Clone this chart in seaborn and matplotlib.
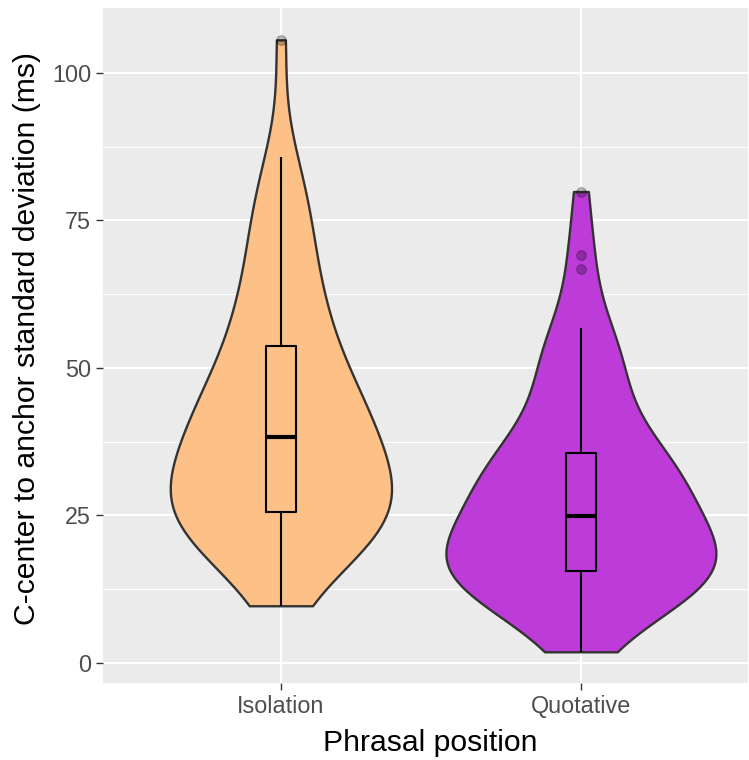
import numpy as np
import pandas as pd
import matplotlib
matplotlib.use("Agg")
import matplotlib.pyplot as plt
import seaborn as sns

# C-center to anchor standard deviations (ms), one value per speaker/item
positions = ["Isolation", "Quotative"]
isolation_sd = [
    9.7, 14.6, 17.2, 18.8, 19.8, 20.6, 21.3, 22.0, 22.6, 23.2, 23.7, 24.2, 24.7, 25.0, 25.3,
    25.6, 26.2, 26.8, 27.4, 28.0, 28.7, 29.4, 30.2, 31.0, 31.9, 32.9, 34.0, 35.2, 36.5, 38.0,
    38.5, 39.1, 39.7, 40.3, 41.0, 41.7, 42.4, 43.2, 44.1, 45.1, 46.3, 47.7, 49.4, 51.3, 53.5,
    54.3, 55.6, 57.1, 58.9, 61.0, 63.3, 65.8, 68.3, 70.9, 73.5, 76.2, 79.0, 82.0, 85.8,
    105.6,
]
quotative_sd = [
    1.9, 5.6, 7.7, 9.2, 10.4, 11.3, 12.0, 12.7, 13.3, 13.8, 14.2, 14.6, 14.9, 15.2, 15.4,
    15.7, 16.0, 16.4, 16.8, 17.2, 17.7, 18.2, 18.8, 19.4, 20.1, 20.9, 21.8, 22.7, 23.7, 24.7,
    25.1, 26.1, 27.0, 27.9, 28.7, 29.5, 30.2, 30.9, 31.6, 32.3, 33.0, 33.6, 34.2, 34.8, 35.4,
    36.4, 38.3, 40.3, 42.4, 44.5, 46.6, 48.6, 50.5, 52.3, 54.0, 55.4, 56.7,
    66.7, 69.2, 79.9,
]
fill_colors = ["#FDC086", "#BD3BD9"]
y_ticks = [0, 25, 50, 75, 100]
y_minor = [12.5, 37.5, 62.5, 87.5]

df = pd.DataFrame({
    "position": ["Isolation"] * len(isolation_sd) + ["Quotative"] * len(quotative_sd),
    "sd": isolation_sd + quotative_sd,
})

plt.rcParams["font.family"] = ["Liberation Sans", "DejaVu Sans"]

fig = plt.figure(figsize=(7.49, 7.60), dpi=100)
ax = fig.add_axes([103 / 749, 1 - 683 / 760, (748 - 103) / 749, (683 - 8.3) / 760])
ax.set_facecolor("#EBEBEB")

# trimmed violins, equal area, scaled by the largest density of both groups
sns.violinplot(
    data=df, x="position", y="sd", hue="position",
    order=positions, hue_order=positions, palette=fill_colors, saturation=1,
    cut=0, density_norm="area", common_norm=True, width=0.9, inner=None,
    linewidth=1.7, linecolor="#333333", bw_method=0.43, legend=False, ax=ax,
)

sns.boxplot(
    data=df, x="position", y="sd", order=positions,
    width=0.1, whis=1.5, fill=False, color="black", linewidth=1.5,
    fliersize=7, showcaps=False, medianprops={"linewidth": 3.0}, ax=ax,
)

# semi-transparent outlier points
for line in ax.lines:
    if line.get_marker() not in (None, "None", "", " ") and line.get_linestyle() in ("None", "", " "):
        line.set_marker("o")
        line.set_markerfacecolor("black")
        line.set_markeredgecolor("black")
        line.set_markeredgewidth(0.8)
        line.set_markersize(7)
        line.set_alpha(0.25)
        line.set_zorder(5)

for s in ax.spines.values():
    s.set_visible(False)

ax.set_xlim(-0.593, 1.557)
ax.set_ylim(-3.39, 110.95)
ax.set_yticks(y_ticks)
ax.set_yticks(y_minor, minor=True)
ax.set_xticks(range(len(positions)))
ax.set_xticklabels(positions)

ax.set_axisbelow(True)
ax.grid(which="major", color="white", linewidth=1.5)
ax.grid(which="minor", axis="y", color="white", linewidth=0.75)
ax.tick_params(which="major", length=5, width=1.0, color="#333333",
               labelsize=16.8, labelcolor="#4D4D4D", pad=3.5)
ax.tick_params(which="minor", length=0)

ax.set_xlabel("Phrasal position", fontsize=21.7, color="black")
ax.set_ylabel("C-center to anchor standard deviation (ms)", fontsize=21.7, color="black")
ax.xaxis.set_label_coords(0.508, -0.068)
ax.yaxis.set_label_coords(-0.096, 0.51)

fig.savefig("out.png", dpi=100)
